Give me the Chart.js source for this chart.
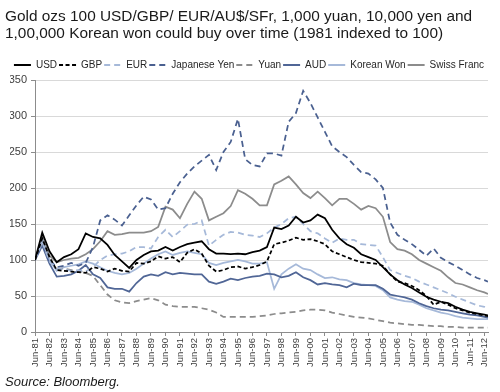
<!DOCTYPE html>
<html><head><meta charset="utf-8">
<script src="https://cdn.jsdelivr.net/npm/chart.js@4.4.0/dist/chart.umd.min.js"></script>
<style>
html,body{margin:0;padding:0;background:#fff;}
#wrap{position:relative;width:500px;height:392px;overflow:hidden;font-family:"Liberation Sans",Arial,sans-serif;}
#title{position:absolute;left:5px;top:7px;font-size:15.4px;line-height:17px;color:#1a1a1a;white-space:nowrap;}
#source{position:absolute;left:5px;top:374px;font-size:13px;line-height:15px;font-style:italic;color:#1a1a1a;}
canvas{position:absolute;left:0;top:0;}
</style></head><body>
<div id="wrap">
<canvas id="c" width="500" height="392"></canvas>
<div id="title">Gold ozs 100 USD/GBP/ EUR/AU$/SFr, 1,000 yuan, 10,000 yen and<br>1,00,000 Korean won could buy over time (1981 indexed to 100)</div>
<div id="source">Source: Bloomberg.</div>
</div>
<script>
const dates = [1981.5,1982,1982.5,1983,1983.5,1984,1984.5,1985,1985.5,1986,1986.5,1987,1987.5,1988,1988.5,1989,1989.5,1990,1990.5,1991,1991.5,1992,1992.5,1993,1993.5,1994,1994.5,1995,1995.5,1996,1996.5,1997,1997.5,1998,1998.5,1999,1999.5,2000,2000.5,2001,2001.5,2002,2002.5,2003,2003.5,2004,2004.5,2005,2005.5,2006,2006.5,2007,2007.5,2008,2008.5,2009,2009.5,2010,2010.5,2011,2011.5,2012,2012.5,2012.75];

const usd = [100,138,112,97,104,108,115,137,132,130, 121,107,98,89,100,107,112,113,118,113, 118,122,124,126,115,109,109,108,109,108, 111,113,118,145,143,148,160,152,155,163, 158,142,130,122,117,108,104,100,90,80, 72,66,61,55,49,45,42,40,35,31, 28,26,24,23];
const gbp = [100,130,104,86,85,84,83,82,90,88, 84,88,85,84,96,95,98,105,102,104, 97,110,115,109,92,84,86,90,91,88, 90,93,98,122,124,127,131,128,129,126, 122,112,108,104,100,97,96,95,92,80, 70,68,64,58,50,38,42,38,33,30, 27,25,23,22];
const eur = [100,125,98,88,87,85,86,84,90,100, 106,108,109,112,118,118,116,132,142,132, 140,149,150,155,120,128,135,139,138,135, 134,132,137,145,150,158,160,150,140,137, 130,124,130,128,128,122,121,120,104,86, 82,78,75,70,66,62,58,54,49,45, 41,37,35,33];
const yen = [100,125,100,90,92,96,92,96,118,155, 162,156,148,162,176,188,184,170,172,192, 208,220,230,238,246,225,250,264,296,240, 232,230,248,248,245,292,304,335,318,298, 278,258,250,243,232,222,220,212,200,152, 135,128,122,114,106,116,103,97,92,86, 80,75,72,70];
const yuan = [100,125,100,88,88,86,85,82,78,65, 52,44,41,40,43,45,47,44,38,36, 35,35,35,33,31,27,21,21,21,21, 21,22,23,25,26,27,28,30,31,31, 30,27,25,23,21,20,19,17,15,13, 12,11,10,10,9,8,8,7,7,6, 6,6,6,6];
const aud = [100,120,95,77,78,80,85,93,80,75, 62,60,60,56,68,77,80,78,83,80, 82,81,80,80,70,67,70,74,72,75, 77,78,81,80,76,78,83,76,72,66, 68,66,65,62,67,65,65,65,60,52, 50,48,45,40,36,33,31,30,28,26, 24,23,21,20];
const krw = [100,128,100,85,90,92,94,98,95,90, 85,82,80,82,88,95,102,108,112,107, 110,112,110,108,96,93,96,98,100,98, 95,95,97,60,80,88,94,88,86,80, 75,76,73,72,68,66,65,64,58,48, 45,43,42,38,33,30,27,25,22,20, 19,18,18,18];
const chf = [100,132,106,97,100,102,103,108,115,126, 140,135,136,138,138,138,140,146,174,170, 158,178,195,185,155,160,165,175,197,192, 185,176,176,205,210,216,205,193,186,195, 186,176,185,185,178,170,175,172,160,125, 115,113,108,100,95,90,85,76,68,66, 62,58,55,53];

const tickDates = [1981.5,1982.5,1983.5,1984.5,1985.5,1986.5,1987.5,1988.5,1989.5,1990.5,1991.5,1992.5,1993.5,1994.5,1995.5,1996.5,1997.5,1998.5,1999.5,2000.5,2001.5,2002.5,2003.5,2004.5,2005.5,2006.5,2007.5,2008.5,2009.5,2010.5,2011.5,2012.5];
const tickLabels = ['Jun-81','Jun-82','Jun-83','Jun-84','Jun-85','Jun-86','Jun-87','Jun-88','Jun-89','Jun-90','Jun-91','Jun-92','Jun-93','Jun-94','Jun-95','Jun-96','Jun-97','Jun-98','Jun-99','Jun-00','Jun-01','Jun-02','Jun-03','Jun-04','Jun-05','Jun-06','Jun-07','Jun-08','Jun-09','Jun-10','Jun-11','Jun-12'];
const yTicks = [0,50,100,150,200,250,300,350];

const seriesNames = ['USD','GBP','EUR','Japanese Yen','Yuan','AUD','Korean Won','Swiss Franc'];
const seriesValues = [usd,gbp,eur,yen,yuan,aud,krw,chf];
const seriesColors = ['#000000','#000000','#a6b9d9','#4a6090','#8c8c8c','#506696','#a6b9d9','#8c8c8c'];
const seriesDash = [[],[4,2.5],[6,4],[6,4],[6,4],[],[],[]];

Chart.defaults.font.family = "'Liberation Sans', Arial, sans-serif";

const datasets = seriesNames.map((name, k) => ({
  label: name,
  data: dates.map((d, i) => ({x: d, y: seriesValues[k][i]})),
  borderColor: seriesColors[k],
  backgroundColor: seriesColors[k],
  borderDash: seriesDash[k],
  borderWidth: 1.75,
  pointRadius: 0,
  tension: 0,
  fill: false
}));

new Chart(document.getElementById('c'), {
  type: 'line',
  data: {datasets},
  options: {
    responsive: false,
    animation: false,
    layout: {padding: {top: 58, right: 12, left: 10, bottom: 0}},
    plugins: {
      legend: {
        position: 'top',
        labels: {
          usePointStyle: true, pointStyle: 'line', pointStyleWidth: 17, boxHeight: 10,
          padding: 2, color: '#262626', font: {size: 10},
          generateLabels: chart => chart.data.datasets.map((ds, i) => ({
            text: ds.label,
            strokeStyle: ds.borderColor,
            fillStyle: ds.borderColor,
            lineWidth: 2,
            lineDash: ds.borderDash,
            lineCap: 'butt',
            pointStyle: 'line',
            hidden: false,
            datasetIndex: i,
            fontColor: '#262626'
          }))
        }
      },
      tooltip: {enabled: false}
    },
    scales: {
      x: {
        type: 'linear', min: 1981.5, max: 2012.75,
        afterBuildTicks: s => { s.ticks = tickDates.map(v => ({value: v})); },
        afterFit: s => { s.height = 60; },
        ticks: {autoSkip: false, maxRotation: 90, minRotation: 90, padding: 2,
          color: '#404040', font: {size: 9.5},
          callback: (v, i) => tickLabels[i]},
        grid: {drawOnChartArea: false, drawTicks: true, tickLength: 4, tickColor: '#8c8c8c'},
        border: {color: '#8c8c8c', width: 1}
      },
      y: {
        min: 0, max: 350,
        afterBuildTicks: s => { s.ticks = yTicks.map(v => ({value: v})); },
        afterFit: s => { s.width = 25; },
        ticks: {padding: 4, color: '#404040', font: {size: 11}},
        grid: {color: '#d9d9d9', tickLength: 4, tickColor: '#8c8c8c'},
        border: {color: '#8c8c8c', width: 1}
      }
    }
  }
});
</script>
</body></html>
